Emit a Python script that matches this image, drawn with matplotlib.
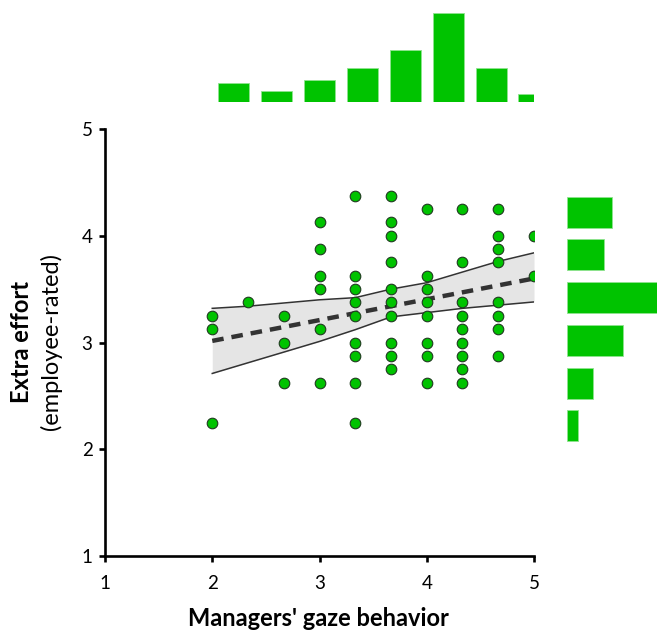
import matplotlib
matplotlib.use("Agg")
import matplotlib.pyplot as plt
import numpy as np

plt.rcParams['font.family'] = ['Lato', 'DejaVu Sans']

# ---- data ----
gaze_x = ([2.0] * 3 + [2.333] * 1 + [2.667] * 3 + [3.0] * 6 + [3.333] * 9 +
          [3.667] * 10 + [4.0] * 8 + [4.333] * 9 + [4.667] * 8 + [5.0] * 2)
effort_y = [3.25, 3.125, 2.25,
            3.375,
            3.25, 3.0, 2.625,
            4.125, 3.875, 3.625, 3.5, 3.125, 2.625,
            4.375, 3.625, 3.5, 3.375, 3.25, 3.0, 2.875, 2.625, 2.25,
            4.375, 4.125, 4.0, 3.75, 3.5, 3.375, 3.25, 3.0, 2.875, 2.75,
            4.25, 3.625, 3.5, 3.375, 3.25, 3.0, 2.875, 2.625,
            4.25, 3.75, 3.375, 3.25, 3.125, 3.0, 2.875, 2.75, 2.625,
            4.25, 4.0, 3.875, 3.75, 3.375, 3.25, 3.125, 2.875,
            4.0, 3.625]

fit_x = [2.0, 5.0]
fit_y = [3.015, 3.60]

band_x = [2.0, 2.333, 2.667, 3.0, 3.333, 3.667, 4.0, 4.333, 4.667, 5.0]
band_upper = [3.32, 3.34, 3.37, 3.40, 3.42, 3.50, 3.56, 3.66, 3.76, 3.84]
band_lower = [2.71, 2.81, 2.91, 3.01, 3.12, 3.24, 3.28, 3.32, 3.35, 3.38]

top_hist_centers = [2.2, 2.6, 3.0, 3.4, 3.8, 4.2, 4.6, 5.0]
top_hist_counts = [5, 3, 6, 9, 14, 24, 9, 2]

right_hist_centers = [4.22, 3.82, 3.42, 3.02, 2.62, 2.22]
right_hist_counts = [12, 10, 25, 15, 7, 3]

ticks = [1, 2, 3, 4, 5]
tick_labels = ['1', '2', '3', '4', '5']

GREEN = '#00c300'

W, H = 657, 634
fig = plt.figure(figsize=(W / 100, H / 100), dpi=100)

ax = fig.add_axes([105 / W, (H - 556) / H, 429 / W, 427 / H])
ax_top = fig.add_axes([105 / W, (H - 101.7) / H, 429 / W, 101.7 / H])
ax_right = fig.add_axes([567.3 / W, (H - 556) / H, (W - 567.3) / W, 427 / H])

# band + fit
ax.fill_between(band_x, band_lower, band_upper, color='#e5e5e5', zorder=1, lw=0)
ax.plot(band_x, band_upper, color='#333333', lw=1.1, zorder=2)
ax.plot(band_x, band_lower, color='#333333', lw=1.1, zorder=2)
ax.plot(fit_x, fit_y, color='#333333', lw=3.2, dashes=(2.6, 1.8), zorder=3,
        solid_capstyle='butt', dash_capstyle='butt')

ax.scatter(gaze_x, effort_y, s=58, c=GREEN, edgecolors='#1f3a1f',
           linewidths=0.8, zorder=4)

ax.set_xlim(1, 5)
ax.set_ylim(1, 5)
ax.set_xticks(ticks)
ax.set_xticklabels(tick_labels)
ax.set_yticks(ticks)
ax.set_yticklabels(tick_labels)
for s in ['top', 'right']:
    ax.spines[s].set_visible(False)
for s in ['left', 'bottom']:
    ax.spines[s].set_linewidth(1.9)
    ax.spines[s].set_capstyle('projecting')
ax.tick_params(axis='both', direction='out', length=4, width=1.9,
               labelsize=13.5, colors='black')
ax.tick_params(axis='x', pad=10)
ax.tick_params(axis='y', pad=5)

# marginal histograms
ax_top.bar(top_hist_centers, top_hist_counts, width=0.29, color=GREEN,
           edgecolor='#8fe38f', linewidth=0.6)
ax_top.set_xlim(1, 5)
ax_top.set_ylim(0, 101.7 / 3.7)
ax_top.axis('off')

ax_right.barh(right_hist_centers, right_hist_counts, height=0.29, color=GREEN,
              edgecolor='#8fe38f', linewidth=0.6)
ax_right.set_ylim(1, 5)
ax_right.set_xlim(0, (W - 567.3) / 3.7)
ax_right.axis('off')

# labels
fig.text(318 / W, (H - 626) / H, "Managers' gaze behavior", ha='center',
         va='baseline', fontsize=17, fontweight='bold')
fig.text(22 / W, (H - 342) / H, 'Extra effort', rotation=90, ha='center',
         va='center', fontsize=17, fontweight='bold')
fig.text(51 / W, (H - 342) / H, '(employee-rated)', rotation=90, ha='center',
         va='center', fontsize=17)

fig.savefig('out.png', dpi=100)
